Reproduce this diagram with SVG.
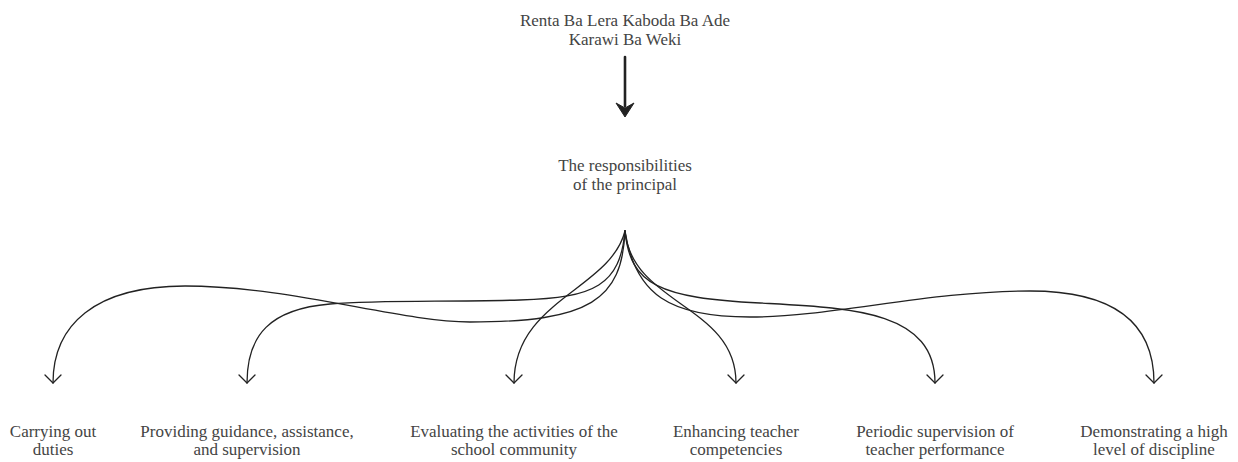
<svg xmlns="http://www.w3.org/2000/svg" width="1238" height="462" viewBox="0 0 1238 462">
  <style>
    .lbl { font-family: "Liberation Serif", "Times New Roman", serif; font-size: 17px; fill: #444; text-anchor: middle; }
    .link { fill: none; stroke: #222; stroke-width: 1.3; stroke-linecap: round; marker-end: url(#open); }
  </style>
  <defs>
    <marker id="open" viewBox="-10 -10 20 20" markerWidth="20" markerHeight="20" refX="0" refY="0" orient="auto" markerUnits="userSpaceOnUse">
      <polyline points="-8,-8 0,0 -8,8" fill="none" stroke="#222" stroke-width="1.3" stroke-linecap="round" stroke-linejoin="round"/>
    </marker>
  </defs>
  <rect width="1238" height="462" fill="#ffffff"/>

  <g id="source">
    <text class="lbl" x="625" y="26">Renta Ba Lera Kaboda Ba Ade</text>
    <text class="lbl" x="625" y="45">Karawi Ba Weki</text>
  </g>

  <g id="principal">
    <text class="lbl" x="625" y="171">The responsibilities</text>
    <text class="lbl" x="625" y="190">of the principal</text>
  </g>

  <g id="duty-1">
    <text class="lbl" x="53" y="437">Carrying out</text>
    <text class="lbl" x="53" y="455">duties</text>
  </g>
  <g id="duty-2">
    <text class="lbl" x="247" y="437">Providing guidance, assistance,</text>
    <text class="lbl" x="247" y="455">and supervision</text>
  </g>
  <g id="duty-3">
    <text class="lbl" x="514" y="437">Evaluating the activities of the</text>
    <text class="lbl" x="514" y="455">school community</text>
  </g>
  <g id="duty-4">
    <text class="lbl" x="736" y="437">Enhancing teacher</text>
    <text class="lbl" x="736" y="455">competencies</text>
  </g>
  <g id="duty-5">
    <text class="lbl" x="935" y="437">Periodic supervision of</text>
    <text class="lbl" x="935" y="455">teacher performance</text>
  </g>
  <g id="duty-6">
    <text class="lbl" x="1154" y="437">Demonstrating a high</text>
    <text class="lbl" x="1154" y="455">level of discipline</text>
  </g>

  <g id="connectors">
    <!-- heavy arrow from the source to the principal -->
    <line x1="625" y1="57" x2="625" y2="106" stroke="#222" stroke-width="2.6" stroke-linecap="round"/>
    <polygon points="616,103 625,108 634,103 625,117" fill="#222" stroke="#222" stroke-width="1" stroke-linejoin="round"/>

    <!-- fan-out from the principal to each duty -->
    <path class="link" d="M625,231 C622,300 590,322 470,322 C400,322 290,286 185,286 C95,286 53,325 53,383"/>
    <path class="link" d="M625,231 C620,285 595,298 520,300 C440,302 380,300 330,304 C270,309 247,335 247,383"/>
    <path class="link" d="M625,231 C610,290 514,300 514,383"/>
    <path class="link" d="M625,231 C632,305 736,305 736,383"/>
    <path class="link" d="M625,231 C630,285 660,298 760,303 C850,308 935,310 935,383"/>
    <path class="link" d="M625,231 C635,295 670,317 750,317 C830,317 930,291 1030,291 C1110,291 1154,320 1154,383"/>
  </g>
</svg>
